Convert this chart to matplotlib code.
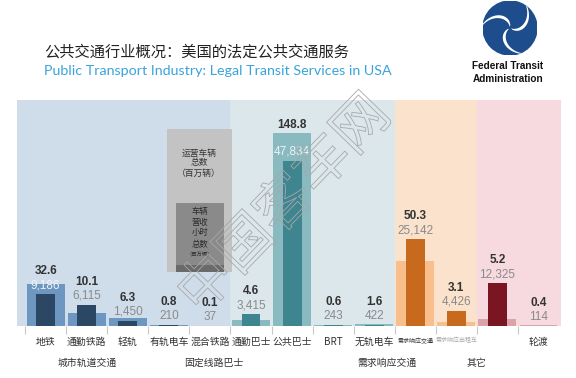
import numpy as np
import matplotlib
matplotlib.use('Agg')
import matplotlib.pyplot as plt
import matplotlib.patches as mpatches
import matplotlib.patheffects as pe

plt.rcParams['font.family'] = ['Noto Sans CJK SC', 'DejaVu Sans']

# data
categories = ['地铁', '通勤铁路', '轻轨', '有轨电车', '混合铁路', '通勤巴士', '公共巴士',
              'BRT', '无轨电车', '需求响应交通', '需求响应出租车', '', '轮渡']
group_of = [0, 0, 0, 0, 0, 1, 1, 1, 1, 2, 2, 3, 3]
wide_vals = [32.6, 10.1, 6.3, 0.8, 0.1, 4.6, 148.8, 0.6, 1.6, 50.3, 3.1, 5.2, 0.4]
narrow_vals = [9186, 6115, 1450, 210, 37, 3415, 47834, 243, 422, 25142, 4426, 12325, 114]
groups = ['城市轨道交通', '固定线路巴士', '需求响应交通', '其它']
group_spans = [(-0.7, 4.5), (4.5, 8.5), (8.5, 10.5), (10.5, 12.55)]
group_label_x = [1.0, 4.1, 8.3, 10.5]

bg_colors = ['#cfdce9', '#dce7eb', '#fbe2cc', '#f7dadf']
wide_colors = ['#6d96c0', '#88bac0', '#f8be8c', '#dba3a7']
narrow_colors = ['#2b4764', '#3e8590', '#c86a1e', '#7a1522']

W, H = 576, 378
fig = plt.figure(figsize=(W / 100, H / 100), dpi=100)

def fx(x):
    return x / W

def fy(y):
    return 1 - y / H

ax_l, ax_r, ax_t, ax_b = 17, 561, 100, 326
ax = fig.add_axes([fx(ax_l), fy(ax_b), fx(ax_r - ax_l), (ax_b - ax_t) / H])
ax2 = ax.twinx()
ax_h_px = ax_b - ax_t

wide_top = 174.0
narrow_top = 65500.0
x = np.arange(len(categories))

for (a, b), c in zip(group_spans, bg_colors):
    ax.axvspan(a, b, color=c, lw=0, zorder=0)

wc = [wide_colors[g] for g in group_of]
nc = [narrow_colors[g] for g in group_of]
ax.bar(x, wide_vals, width=0.92, color=wc, zorder=2)
ax2.bar(x, narrow_vals, width=0.46, color=nc, zorder=3)

ax.set_xlim(-0.7, 12.55)
ax.set_ylim(0, wide_top)
ax2.set_ylim(0, narrow_top)
for a in (ax, ax2):
    for s in a.spines.values():
        s.set_visible(False)
    a.set_yticks([])
ax.axhline(0, color='#c8c8c8', lw=0.8, zorder=4)

ax.set_xticks(x)
ax.set_xticklabels(categories, fontsize=7.1, color='#333333')
ax.tick_params(axis='x', which='major', length=0, pad=8)
ax.set_xticks(np.arange(-0.5, 12.5, 1), minor=True)
ax.tick_params(axis='x', which='minor', length=6, color='#c8c8c8', width=0.8)
tl = ax.get_xticklabels()
tl[9].set_fontsize(4.3)
tl[10].set_fontsize(4.3)
tl[10].set_color('#aaaaaa')

# value labels
for i in x:
    n_px = narrow_vals[i] / narrow_top * ax_h_px
    w_px = wide_vals[i] / wide_top * ax_h_px
    grey_px = n_px + 9
    bold_px = max(grey_px + 14, w_px + 8)
    inside = grey_px < w_px
    gcol = '#eef3f8' if inside else '#8a8a8a'
    ax.text(i, grey_px / ax_h_px * wide_top, '{:,}'.format(narrow_vals[i]),
            ha='center', va='center', fontsize=8.5, color=gcol,
            family='Liberation Sans', zorder=5)
    ax.text(i, bold_px / ax_h_px * wide_top, '{:.1f}'.format(wide_vals[i]),
            ha='center', va='center', fontsize=8.5, color='#333333',
            fontweight='bold', family='Liberation Sans', zorder=5)

for g, gx in zip(groups, group_label_x):
    ax.text(gx, -0.165 * wide_top, g, ha='center', va='center',
            fontsize=7.1, color='#333333')

# legend box
fig.add_artist(mpatches.Rectangle((fx(167), fy(272)), fx(65), (272 - 129) / H,
                                  color='#c4c3c4', lw=0, zorder=6))
fig.add_artist(mpatches.Rectangle((fx(176), fy(272)), fx(48), (272 - 203) / H,
                                  color='#8a8a8a', lw=0, zorder=7))
fig.add_artist(mpatches.Rectangle((fx(176), fy(272)), fx(48), 7 / H,
                                  color='#6a6a6a', lw=0, zorder=8))
for txt, yy, fs in [('运营车辆', 153, 6.3), ('总数', 163, 6.3), ('（百万辆）', 173, 6.3)]:
    fig.text(fx(199), fy(yy), txt, ha='center', va='center', fontsize=fs,
             color='#333333', zorder=9)
for txt, yy, fs in [('车辆', 211, 6.0), ('营收', 222, 6.0), ('小时', 233, 6.0),
                    ('总数', 244, 6.0), ('（百万辆）', 255, 3.8)]:
    fig.text(fx(200), fy(yy), txt, ha='center', va='center', fontsize=fs,
             color='#2a2a2a', zorder=9)

# titles
fig.text(fx(44), fy(52), '公共交通行业概况：美国的法定公共交通服务', ha='left',
         va='center', fontsize=11, color='#222222')
fig.text(fx(44), fy(71), 'Public Transport Industry: Legal Transit Services in USA',
         ha='left', va='center', fontsize=10.3, color='#3aa3dc', family='Lato')

# FTA logo
cx, cy, r = 510, 28, 27
logo_ax = fig.add_axes([fx(cx - r), fy(cy + r), fx(2 * r), 2 * r / H])
logo_ax.set_xlim(-1, 1)
logo_ax.set_ylim(-1, 1)
logo_ax.axis('off')
logo_ax.add_patch(mpatches.Circle((0, 0), 1, color='#1d4d8c'))
for k in range(3):
    t0 = np.deg2rad(100 + 120 * k)
    s = np.linspace(0, 1, 40)
    ang = t0 + 1.3 * s
    rad = 0.05 + 0.97 * s
    wdt = 0.13 * np.sin(np.pi * s * 0.9) + 0.015
    outer = np.c_[rad * np.cos(ang), rad * np.sin(ang)]
    ang_in = ang - wdt / np.maximum(rad, 0.1)
    inner = np.c_[rad * np.cos(ang_in), rad * np.sin(ang_in)]
    poly = np.vstack([outer, inner[::-1]])
    logo_ax.add_patch(mpatches.Polygon(poly, closed=True, color='white', lw=0))
fig.text(fx(508), fy(66), 'Federal Transit', ha='center', va='center',
         fontsize=7.2, fontweight='bold', color='#111111', family='Liberation Sans')
fig.text(fx(508), fy(79), 'Administration', ha='center', va='center',
         fontsize=7.2, fontweight='bold', color='#111111', family='Liberation Sans')

# watermark
fig.text(fx(285), fy(205), '中国客车网', ha='center', va='center', rotation=46,
         rotation_mode='anchor', fontsize=40, color='none', zorder=10,
         path_effects=[pe.Stroke(linewidth=0.6, foreground='#a8a8a8')])

fig.savefig('out.png', dpi=100)
